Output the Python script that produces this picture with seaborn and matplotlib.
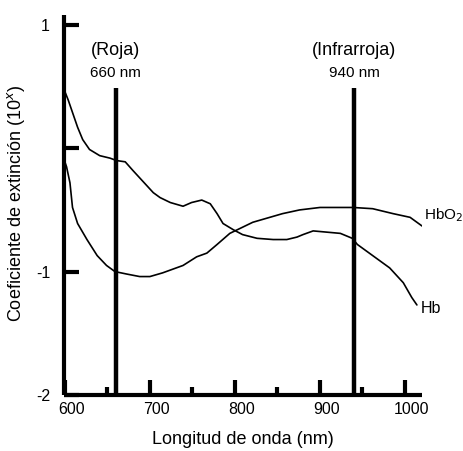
import matplotlib
matplotlib.use("Agg")
import matplotlib.pyplot as plt
from matplotlib.transforms import ScaledTranslation
import pandas as pd
import seaborn as sns

# Hb (desoxihemoglobina)
hb_nm = [600, 604, 609, 615, 621, 629, 641, 653, 661, 671, 680, 692, 704, 712,
         724, 739, 749, 761, 771, 779, 786, 798, 809, 826, 845, 861, 873, 880,
         892, 908, 924, 938, 944, 962, 982, 998, 1008, 1014]
hb_val = [0.46, 0.39, 0.29, 0.17, 0.07, -0.01, -0.06, -0.08, -0.1, -0.11, -0.18,
          -0.27, -0.36, -0.4, -0.44, -0.47, -0.44, -0.42, -0.45, -0.53, -0.61,
          -0.66, -0.7, -0.73, -0.74, -0.74, -0.72, -0.7, -0.67, -0.68, -0.69,
          -0.73, -0.78, -0.87, -0.97, -1.09, -1.21, -1.27]

# HbO2 (oxihemoglobina)
hbo2_nm = [600, 602, 606, 609, 615, 626, 638, 649, 659, 673, 688, 700, 715, 739,
           755, 767, 779, 794, 806, 821, 841, 856, 876, 900, 924, 939, 962, 986,
           1006, 1020]
hbo2_val = [-0.11, -0.15, -0.28, -0.48, -0.61, -0.74, -0.87, -0.95, -1.0, -1.02,
            -1.04, -1.04, -1.01, -0.95, -0.88, -0.85, -0.78, -0.69, -0.65, -0.6,
            -0.56, -0.53, -0.5, -0.48, -0.48, -0.48, -0.49, -0.53, -0.56, -0.63]

led_nm = [660, 940]
led_names = ["(Roja)", "(Infrarroja)"]
led_labels = ["660 nm", "940 nm"]

x_major = [600, 700, 800, 900, 1000]
x_minor = [650, 750, 850, 950]
y_ticks = [1, 0, -1, -2]
y_ticklabels = ["1", "", "-1", "-2"]

df = pd.concat([
    pd.DataFrame({"nm": hb_nm, "val": hb_val, "serie": "Hb"}),
    pd.DataFrame({"nm": hbo2_nm, "val": hbo2_val, "serie": "HbO2"}),
])

sns.set_style("ticks")
plt.rcParams["font.family"] = ["Liberation Sans", "DejaVu Sans"]
plt.rcParams.update({
    "axes.edgecolor": "black", "text.color": "black", "axes.labelcolor": "black",
    "xtick.color": "black", "ytick.color": "black",
})

fig = plt.figure(figsize=(4.63, 4.51), dpi=100)
ax = fig.add_axes([64 / 463, 56 / 451, 358 / 463, 380 / 451])

sns.lineplot(data=df, x="nm", y="val", units="serie", estimator=None,
             color="black", linewidth=1.2, sort=False, ax=ax)

# lineas de los LED
for nm in led_nm:
    ax.plot([nm, nm], [-2, 0.49], color="black", linewidth=3.2,
            solid_capstyle="butt")
for nm, name, lab in zip(led_nm, led_names, led_labels):
    ax.text(nm, 0.79, name, ha="center", va="center", fontsize=13)
    ax.text(nm, 0.61, lab, ha="center", va="center", fontsize=11)

ax.text(hbo2_nm[-1] + 2, hbo2_val[-1] + 0.09, "HbO$_2$", ha="left",
        va="center", fontsize=11)
ax.text(hb_nm[-1] + 5, hb_val[-1] - 0.03, "Hb", ha="left", va="center",
        fontsize=11.5)

ax.set_xlim(599, 1020)
ax.set_ylim(-2, 1.08)
ax.set_xticks(x_major)
ax.set_xticks(x_minor, minor=True)
ax.set_yticks(y_ticks)
ax.set_yticklabels(y_ticklabels)

for s in ["top", "right"]:
    ax.spines[s].set_visible(False)
for s in ["left", "bottom"]:
    ax.spines[s].set_linewidth(3)
    ax.spines[s].set_capstyle("butt")

ax.tick_params(axis="x", which="major", direction="in", length=11, width=3,
               labelsize=11.5, pad=5)
ax.tick_params(axis="x", which="minor", direction="in", length=6, width=3)
ax.tick_params(axis="y", which="major", direction="in", length=11, width=3,
               labelsize=11.5, pad=10)

# en el original las cifras del eje x quedan un poco a la derecha
for lbl in ax.get_xticklabels():
    lbl.set_transform(lbl.get_transform() + ScaledTranslation(7 / 100, 0, fig.dpi_scale_trans))

ax.set_xlabel("Longitud de onda (nm)", fontsize=13, labelpad=10)
ax.set_ylabel("Coeficiente de extinción (10$^x$)", fontsize=13)
ax.yaxis.set_label_coords(-0.103, 0.505)

fig.savefig("out.png", dpi=100)
